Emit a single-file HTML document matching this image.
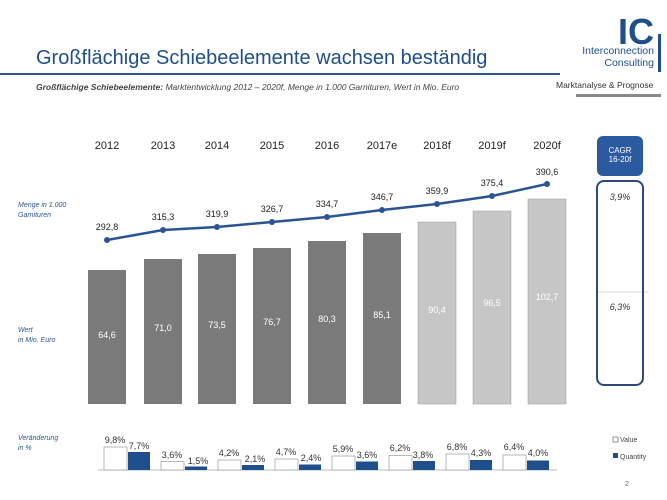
<!DOCTYPE html><html><head><meta charset="utf-8"><style>
body{margin:0;width:667px;height:500px;background:#fff;font-family:"Liberation Sans",sans-serif;position:relative;overflow:hidden}
div{position:absolute}
.t{white-space:nowrap}
</style></head><body>
<div class="t" style="left:36px;top:47px;font-size:20px;color:#1f4e8c">Großflächige Schiebeelemente wachsen beständig</div>
<div style="left:0;top:73px;width:560px;height:2px;background:#2b5592"></div>
<div class="t" style="left:36px;top:82px;font-size:8.5px;font-style:italic;color:#444"><b>Großflächige Schiebeelemente:</b> Marktentwicklung 2012 – 2020f, Menge in 1.000 Garnituren, Wert in Mio. Euro</div>
<div class="t" style="left:618px;top:14px;font-size:36px;font-weight:bold;color:#1f4e8c;line-height:36px">IC</div>
<div style="left:658px;top:34px;width:3px;height:38px;background:#1f4e8c"></div>
<div class="t" style="left:568px;top:45px;font-size:10.5px;color:#1f4e8c;text-align:right;width:86px;line-height:12px">Interconnection<br>Consulting</div>
<div class="t" style="left:556px;top:80px;font-size:8.5px;color:#333">Marktanalyse &amp; Prognose</div>
<div style="left:576px;top:94px;width:85px;height:3px;background:#888"></div>
<svg style="position:absolute;left:0;top:0" width="667" height="500">
<g font-size="11" fill="#222" text-anchor="middle">
<text x="107" y="149">2012</text><text x="163" y="149">2013</text><text x="217" y="149">2014</text><text x="272" y="149">2015</text><text x="327" y="149">2016</text><text x="382" y="149">2017e</text><text x="437" y="149">2018f</text><text x="492" y="149">2019f</text><text x="547" y="149">2020f</text>
</g>
<g fill="#7a7a7a">
<rect x="88" y="270" width="38" height="134"/><rect x="144" y="259" width="38" height="145"/><rect x="198" y="254" width="38" height="150"/><rect x="253" y="248" width="38" height="156"/><rect x="308" y="241" width="38" height="163"/><rect x="363" y="233" width="38" height="171"/>
</g>
<g fill="#c6c6c6" stroke="#999" stroke-width="0.5">
<rect x="418" y="222" width="38" height="182"/><rect x="473" y="211" width="38" height="193"/><rect x="528" y="199" width="38" height="205"/>
</g>
<g font-size="9" fill="#fff" text-anchor="middle">
<text x="107" y="338">64,6</text><text x="163" y="331">71,0</text><text x="217" y="328">73,5</text><text x="272" y="325">76,7</text><text x="327" y="322">80,3</text><text x="382" y="318">85,1</text><text x="437" y="313">90,4</text><text x="492" y="306">96,5</text><text x="547" y="300">102,7</text>
</g>
<polyline fill="none" stroke="#2b5592" stroke-width="2.5" points="107,240 163,230 217,227 272,222 327,217 382,210 437,204 492,196 547,184"/>
<g fill="#2b5592"><circle cx="107" cy="240" r="3"/><circle cx="163" cy="230" r="3"/><circle cx="217" cy="227" r="3"/><circle cx="272" cy="222" r="3"/><circle cx="327" cy="217" r="3"/><circle cx="382" cy="210" r="3"/><circle cx="437" cy="204" r="3"/><circle cx="492" cy="196" r="3"/><circle cx="547" cy="184" r="3"/></g>
<g font-size="9" fill="#222" text-anchor="middle">
<text x="107" y="230">292,8</text><text x="163" y="220">315,3</text><text x="217" y="217">319,9</text><text x="272" y="212">326,7</text><text x="327" y="207">334,7</text><text x="382" y="200">346,7</text><text x="437" y="194">359,9</text><text x="492" y="186">375,4</text><text x="547" y="175">390,6</text>
</g>
<g font-size="7" font-style="italic" fill="#2b5592">
<text x="18" y="207">Menge in 1.000</text><text x="18" y="217">Garnituren</text>
<text x="18" y="332">Wert</text><text x="18" y="342">in Mio. Euro</text>
<text x="18" y="440">Veränderung</text><text x="18" y="450">in %</text>
</g>
<rect x="597" y="136" width="46" height="40" rx="6" fill="#2b5aa0"/>
<text x="620" y="153" font-size="8" fill="#fff" text-anchor="middle">CAGR</text>
<text x="620" y="162" font-size="8" fill="#fff" text-anchor="middle">16-20f</text>
<line x1="597" y1="292" x2="648" y2="292" stroke="#ddd"/>
<rect x="597" y="181" width="46" height="204" rx="7" fill="none" stroke="#2b4a7a" stroke-width="2"/>
<text x="620" y="200" font-size="9" font-style="italic" fill="#333" text-anchor="middle">3,9%</text>
<text x="620" y="310" font-size="9" font-style="italic" fill="#333" text-anchor="middle">6,3%</text>
<line x1="98" y1="470" x2="557" y2="470" stroke="#bbb"/>
<g fill="#fff" stroke="#999" stroke-width="0.7">
<rect x="104" y="447" width="23" height="23"/><rect x="161" y="461.5" width="23" height="8.5"/><rect x="218" y="460" width="23" height="10"/><rect x="275" y="459" width="23" height="11"/><rect x="332" y="456" width="23" height="14"/><rect x="389" y="455.5" width="23" height="14.5"/><rect x="446" y="454" width="23" height="16"/><rect x="503" y="455" width="23" height="15"/>
</g>
<g fill="#1f4e8c">
<rect x="128" y="452" width="22" height="18"/><rect x="185" y="466.5" width="22" height="3.5"/><rect x="242" y="465" width="22" height="5"/><rect x="299" y="464.5" width="22" height="5.5"/><rect x="356" y="461.5" width="22" height="8.5"/><rect x="413" y="461" width="22" height="9"/><rect x="470" y="460" width="22" height="10"/><rect x="527" y="460.5" width="22" height="9.5"/>
</g>
<g font-size="9" fill="#333" text-anchor="middle">
<text x="115" y="443">9,8%</text><text x="139" y="449">7,7%</text>
<text x="172" y="458">3,6%</text><text x="198" y="464">1,5%</text>
<text x="229" y="456">4,2%</text><text x="255" y="462">2,1%</text>
<text x="286" y="455">4,7%</text><text x="311" y="461">2,4%</text>
<text x="343" y="452">5,9%</text><text x="367" y="458">3,6%</text>
<text x="400" y="451">6,2%</text><text x="423" y="458">3,8%</text>
<text x="457" y="450">6,8%</text><text x="481" y="456">4,3%</text>
<text x="514" y="450">6,4%</text><text x="538" y="456">4,0%</text>
</g>
<rect x="613" y="437" width="5" height="5" fill="#fff" stroke="#666" stroke-width="0.7"/>
<text x="620" y="442" font-size="7" fill="#444">Value</text>
<rect x="613" y="453" width="5" height="5" fill="#1f4e8c"/>
<text x="620" y="459" font-size="7" fill="#444">Quantity</text>
<text x="625" y="486" font-size="7" fill="#666">2</text>
</svg>
</body></html>
